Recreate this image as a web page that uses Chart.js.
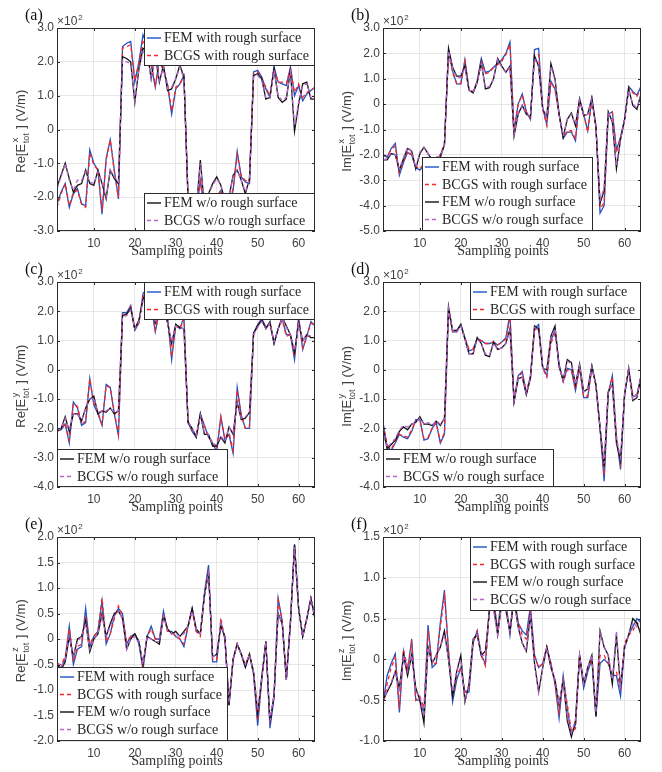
<!DOCTYPE html>
<html><head><meta charset="utf-8">
<script src="https://cdn.jsdelivr.net/npm/chart.js@4.4.1/dist/chart.umd.min.js"></script>
<style>
html,body{margin:0;padding:0;background:#fff;}
#wrap{position:relative;width:662px;height:772px;overflow:hidden;background:#fff;}
canvas{position:absolute;}
</style></head><body><div id="wrap"></div>
<script>
// ---------- categories / ticks ----------
const samplingPoints = [1,2,3,4,5,6,7,8,9,10,11,12,13,14,15,16,17,18,19,20,21,22,23,24,25,26,27,28,29,30,31,32,
  33,34,35,36,37,38,39,40,41,42,43,44,45,46,47,48,49,50,51,52,53,54,55,56,57,58,59,60,61,62,63,64];
const xTicks = [10,20,30,40,50,60];
const yTicksA = [-3,-2,-1,0,1,2,3];
const yTicksB = [-5,-4,-3,-2,-1,0,1,2,3];
const yTicksC = [-4,-3,-2,-1,0,1,2,3];
const yTicksD = [-4,-3,-2,-1,0,1,2,3];
const yTicksE = [-2,-1.5,-1,-0.5,0,0.5,1,1.5,2];
const yTicksF = [-1,-0.5,0,0.5,1,1.5];
const seriesNames = ['FEM with rough surface','BCGS with rough surface','FEM w/o rough surface','BCGS w/o rough surface'];

// ---------- values (x10^2 V/m) ----------
// (a) Re[Ex]
const aFemRough = [-2.2,-1.85,-1.6,-2.3,-1.9,-1.75,-2.2,-2.25,-0.6,-1.0,-1.2,-2.5,-0.85,-0.3,-1.2,-2.05,
  2.45,2.55,2.6,1.4,2.0,2.8,2.5,1.9,1.25,2.1,1.8,1.3,0.45,1.2,1.35,1.6,
  -2.1,-2.3,-2.5,-1.5,-2.4,-2.0,-2.3,-2.0,-1.8,-2.4,-2.2,-1.8,-0.65,-1.4,-1.55,-1.6,
  1.7,1.75,1.55,1.2,0.95,1.85,1.4,1.35,1.3,1.85,1.0,1.3,0.85,1.05,1.15,1.25];
const aBcgsRough = [-2.3,-1.9,-1.6,-2.25,-1.85,-1.8,-2.2,-2.3,-0.7,-1.05,-1.2,-2.4,-0.9,-0.3,-1.25,-2.0,
  2.4,2.45,2.5,1.45,1.95,2.6,2.5,1.95,1.3,2.0,1.75,1.35,0.55,1.25,1.35,1.55,
  -2.05,-2.3,-2.45,-1.55,-2.35,-2.0,-2.25,-2.0,-1.8,-2.35,-2.15,-1.75,-0.75,-1.4,-1.5,-1.55,
  1.65,1.7,1.5,1.25,1.0,1.8,1.4,1.4,1.35,1.8,1.1,1.35,0.95,1.1,1.15,1.25];
const aFemSmooth = [-1.7,-1.35,-1.0,-1.45,-1.85,-1.65,-1.6,-1.2,-1.6,-1.65,-1.2,-1.6,-2.05,-1.2,-1.45,-1.6,
  2.15,2.1,2.0,0.8,1.8,2.4,2.3,1.5,2.2,1.4,1.9,1.15,1.2,1.5,1.9,1.55,
  -2.0,-2.2,-2.4,-0.9,-2.3,-1.9,-1.6,-1.4,-1.65,-2.1,-2.0,-1.35,-1.2,-1.5,-1.9,-1.45,
  1.6,1.65,1.5,0.9,0.95,1.8,0.95,0.8,0.9,1.75,-0.05,0.75,1.35,1.4,0.9,0.9];
const aBcgsSmooth = [-1.75,-1.4,-1.0,-1.5,-1.8,-1.5,-1.5,-1.25,-1.55,-1.6,-1.25,-1.55,-2.0,-1.2,-1.4,-1.55,
  2.05,2.0,1.95,0.85,1.75,2.3,2.25,1.5,2.15,1.45,1.85,1.2,1.25,1.5,1.85,1.5,
  -1.95,-2.15,-2.35,-1.0,-2.25,-1.9,-1.65,-1.45,-1.65,-2.05,-1.95,-1.4,-1.2,-1.5,-1.85,-1.45,
  1.55,1.6,1.45,0.95,0.95,1.75,1.0,0.85,0.95,1.7,0.1,0.8,1.3,1.35,0.95,0.9];

// (b) Im[Ex]
const bFemRough = [-2.0,-2.1,-1.75,-1.55,-2.8,-2.3,-1.9,-2.0,-2.5,-2.6,-2.4,-2.1,-2.3,-2.2,-2.0,-1.6,
  2.1,1.3,0.8,0.8,1.75,0.55,0.45,0.9,1.8,1.25,1.3,1.45,1.6,1.75,2.0,2.45,
  -1.05,0.0,0.4,-0.3,-0.6,2.15,2.2,-0.15,-0.8,0.9,0.6,-0.4,-1.35,-1.1,-1.1,-1.45,
  0.2,-0.4,-1.05,0.2,-0.9,-4.3,-4.0,-0.4,-0.3,-1.8,-1.3,-0.6,0.7,0.5,0.35,0.7];
const bBcgsRough = [-2.0,-2.05,-1.8,-1.65,-2.7,-2.25,-1.85,-2.0,-2.45,-2.55,-2.35,-2.1,-2.3,-2.2,-2.0,-1.6,
  2.0,1.25,0.8,0.8,1.7,0.55,0.5,0.9,1.75,1.2,1.25,1.45,1.55,1.7,1.95,2.35,
  -1.0,0.0,0.35,-0.3,-0.55,1.95,1.95,-0.2,-0.85,0.85,0.6,-0.4,-1.3,-1.05,-1.05,-1.35,
  0.15,-0.4,-1.1,0.15,-0.9,-4.1,-3.9,-0.4,-0.3,-1.9,-1.35,-0.6,0.65,0.45,0.3,0.6];
const bFemSmooth = [-2.2,-2.2,-1.95,-2.0,-2.6,-2.15,-1.75,-1.85,-2.55,-1.95,-1.7,-1.95,-2.2,-2.1,-2.1,-1.6,
  2.2,1.45,1.1,1.1,1.5,0.55,0.45,0.85,1.65,0.6,0.65,1.0,1.8,1.5,1.25,1.5,
  -1.25,-0.4,-0.05,-0.4,-0.5,1.9,1.5,-0.2,-0.5,1.6,1.0,-0.4,-1.3,-0.6,-0.35,-0.85,
  0.2,-0.45,-0.4,0.25,-0.9,-3.9,-3.4,-0.3,-0.7,-2.55,-1.4,-0.6,0.6,-0.05,-0.2,0.4];
const bBcgsSmooth = [-2.2,-2.15,-1.9,-2.0,-2.55,-2.1,-1.7,-1.85,-2.5,-1.9,-1.7,-1.95,-2.2,-2.1,-2.05,-1.6,
  2.1,1.4,1.05,1.05,1.45,0.55,0.45,0.85,1.6,0.65,0.7,1.0,1.75,1.45,1.25,1.45,
  -1.2,-0.35,-0.05,-0.4,-0.5,1.8,1.45,-0.2,-0.5,1.5,0.95,-0.4,-1.25,-0.6,-0.4,-0.8,
  0.15,-0.45,-0.4,0.2,-0.85,-3.8,-3.3,-0.3,-0.65,-2.45,-1.4,-0.6,0.55,0.0,-0.15,0.35];

// (c) Re[Ey]
const cFemRough = [-2.05,-2.05,-1.85,-2.5,-1.1,-1.3,-1.9,-1.8,-0.3,-1.2,-1.5,-1.9,-0.5,-0.6,-1.5,-2.25,
  1.95,1.95,2.2,1.35,1.6,2.6,2.8,2.2,1.3,2.0,2.3,1.8,0.35,1.55,1.4,1.8,
  -1.8,-2.1,-2.3,-1.5,-1.9,-2.3,-2.5,-2.8,-1.6,-2.4,-2.2,-2.85,-0.6,-1.55,-2.0,-2.0,
  1.25,1.55,1.75,1.45,1.6,0.9,1.4,1.75,1.2,1.2,0.35,1.8,0.7,1.15,1.65,1.5];
const cBcgsRough = [-2.1,-2.0,-1.8,-2.4,-1.15,-1.25,-1.85,-1.75,-0.3,-1.15,-1.45,-1.85,-0.55,-0.6,-1.45,-2.2,
  1.9,1.9,2.15,1.4,1.6,2.5,2.7,2.15,1.35,1.95,2.25,1.75,0.45,1.5,1.4,1.75,
  -1.75,-2.05,-2.25,-1.55,-1.9,-2.3,-2.45,-2.7,-1.6,-2.35,-2.15,-2.75,-0.7,-1.55,-2.0,-1.95,
  1.2,1.5,1.7,1.45,1.55,0.95,1.4,1.7,1.15,1.2,0.45,1.75,0.75,1.15,1.6,1.5];
const cFemSmooth = [-2.1,-2.0,-1.6,-2.1,-1.5,-1.5,-1.75,-1.3,-1.0,-0.9,-1.5,-1.4,-1.45,-1.3,-1.5,-1.4,
  1.85,1.9,2.1,1.4,1.7,2.4,2.7,2.1,1.6,2.0,2.1,1.6,0.9,1.55,1.45,1.4,
  -1.8,-2.0,-2.3,-1.5,-2.2,-2.2,-2.6,-2.6,-2.3,-2.5,-1.95,-2.2,-1.1,-1.7,-1.65,-1.45,
  1.25,1.5,1.7,1.4,1.65,0.9,1.4,1.8,1.5,1.2,0.6,1.6,1.0,1.2,1.1,1.1];
const cBcgsSmooth = [-2.05,-2.0,-1.65,-2.05,-1.5,-1.5,-1.7,-1.35,-1.0,-0.95,-1.45,-1.4,-1.4,-1.3,-1.45,-1.4,
  1.8,1.85,2.05,1.4,1.65,2.35,2.6,2.05,1.6,1.95,2.05,1.6,0.95,1.5,1.45,1.4,
  -1.75,-2.0,-2.25,-1.55,-2.15,-2.2,-2.55,-2.55,-2.25,-2.45,-1.95,-2.15,-1.15,-1.65,-1.6,-1.45,
  1.2,1.45,1.65,1.4,1.6,0.95,1.4,1.75,1.45,1.2,0.65,1.55,1.0,1.2,1.15,1.1];

// (d) Im[Ey]
const dFemRough = [-1.8,-2.6,-2.75,-2.5,-2.2,-2.3,-2.35,-2.1,-1.7,-1.7,-2.4,-2.35,-2.0,-1.8,-2.5,-2.2,
  2.1,1.3,1.3,1.55,1.1,0.65,0.7,1.05,1.0,0.9,0.9,0.95,0.85,0.95,1.1,1.9,
  -1.05,-0.2,-0.05,-0.8,-0.2,1.4,1.55,0.1,-0.2,1.0,1.35,0.2,-0.4,0.05,0.0,-0.7,
  0.1,-0.95,-0.95,0.1,-0.5,-2.0,-3.8,-0.8,-0.2,-2.3,-3.4,-0.8,0.0,-0.9,-0.9,-0.2];
const dBcgsRough = [-1.85,-2.55,-2.7,-2.45,-2.2,-2.25,-2.3,-2.05,-1.75,-1.7,-2.35,-2.3,-2.0,-1.8,-2.45,-2.15,
  2.05,1.3,1.3,1.5,1.1,0.7,0.7,1.05,1.0,0.9,0.9,0.95,0.85,0.95,1.05,1.8,
  -1.0,-0.25,-0.1,-0.75,-0.25,1.35,1.45,0.05,-0.25,0.9,1.25,0.15,-0.4,0.0,0.0,-0.65,
  0.05,-0.9,-0.9,0.05,-0.5,-1.95,-3.6,-0.8,-0.25,-2.25,-3.2,-0.8,0.05,-0.85,-0.85,-0.2];
const dFemSmooth = [-2.0,-2.7,-2.55,-2.4,-2.1,-1.95,-2.05,-1.85,-1.8,-1.6,-1.85,-1.85,-1.9,-1.75,-1.9,-1.65,
  2.15,1.35,1.35,1.55,1.05,0.55,0.55,1.1,0.9,0.5,0.45,0.95,0.7,0.75,0.9,1.4,
  -1.1,-0.3,-0.25,-0.85,-0.3,1.5,1.4,0.05,0.0,1.15,1.5,0.1,-0.35,0.35,0.25,-0.5,
  0.2,-0.75,-0.65,0.15,-0.55,-2.0,-3.3,-0.75,-0.5,-2.5,-3.1,-0.85,0.05,-1.05,-0.95,-0.25];
const dBcgsSmooth = [-2.0,-2.65,-2.5,-2.35,-2.05,-1.9,-1.95,-1.85,-1.8,-1.65,-1.85,-1.8,-1.9,-1.75,-1.85,-1.65,
  2.1,1.35,1.3,1.5,1.05,0.55,0.55,1.05,0.9,0.55,0.5,0.9,0.7,0.75,0.9,1.35,
  -1.05,-0.3,-0.25,-0.8,-0.3,1.45,1.35,0.05,0.0,1.1,1.4,0.1,-0.35,0.3,0.2,-0.5,
  0.15,-0.75,-0.65,0.1,-0.55,-1.95,-3.2,-0.75,-0.5,-2.4,-3.0,-0.85,0.05,-1.0,-0.9,-0.25];

// (e) Re[Ez]
const eFemRough = [-0.55,-0.55,-0.4,0.25,-0.5,-0.2,-0.15,0.6,-0.15,0.05,0.15,0.75,-0.1,0.1,0.45,0.6,
  0.5,-0.1,0.05,0.1,-0.1,-0.6,0.05,0.25,0.0,0.0,0.55,0.15,0.15,0.05,0.0,-0.15,
  0.25,0.6,0.15,0.1,0.9,1.45,-0.45,-0.45,0.35,0.0,-1.3,-0.4,-0.1,-0.3,-0.55,-0.3,
  -0.7,-1.7,-0.8,-0.05,-1.75,-1.15,0.8,0.35,-0.8,0.3,1.85,0.6,0.05,0.4,0.8,0.4];
const eBcgsRough = [-0.5,-0.5,-0.35,0.2,-0.45,-0.15,-0.1,0.45,-0.1,0.05,0.15,0.8,-0.05,0.1,0.4,0.65,
  0.45,-0.05,0.05,0.1,-0.05,-0.55,0.05,0.2,0.0,0.0,0.5,0.15,0.15,0.05,0.0,-0.1,
  0.25,0.55,0.15,0.05,0.85,1.35,-0.4,-0.4,0.4,0.0,-1.25,-0.4,-0.1,-0.3,-0.5,-0.3,
  -0.65,-1.6,-0.8,-0.05,-1.65,-1.1,0.75,0.35,-0.75,0.3,1.8,0.6,0.05,0.4,0.8,0.45];
const eFemSmooth = [-0.5,-0.6,-0.45,0.05,-0.35,0.0,0.05,0.35,-0.25,0.0,0.1,0.5,0.05,0.3,0.5,0.55,
  0.4,-0.2,0.0,0.1,-0.05,-0.5,0.05,0.0,-0.05,-0.1,0.45,0.2,0.1,0.15,0.05,0.15,
  0.25,0.6,0.2,0.1,0.85,1.3,-0.35,-0.3,0.25,0.05,-1.3,-0.4,-0.1,-0.3,-0.55,-0.3,
  -0.65,-1.45,-0.75,-0.05,-1.65,-1.1,0.5,0.3,-0.8,0.35,1.85,0.6,0.05,0.4,0.8,0.4];
const eBcgsSmooth = [-0.45,-0.55,-0.4,0.05,-0.35,-0.05,0.05,0.3,-0.2,0.0,0.1,0.45,0.05,0.25,0.45,0.55,
  0.4,-0.2,0.0,0.05,-0.05,-0.5,0.05,0.0,-0.05,-0.05,0.45,0.15,0.1,0.1,0.05,0.1,
  0.25,0.55,0.2,0.1,0.85,1.3,-0.35,-0.3,0.3,0.05,-1.25,-0.4,-0.1,-0.3,-0.5,-0.3,
  -0.65,-1.4,-0.75,-0.05,-1.6,-1.1,0.5,0.3,-0.8,0.35,1.8,0.6,0.05,0.4,0.8,0.4];

// (f) Im[Ez]
const fFemRough = [-0.55,-0.2,-0.05,0.07,-0.65,0.1,-0.15,0.25,-0.5,-0.5,-0.65,0.42,-0.1,-0.05,0.45,0.85,
  0.1,-0.52,-0.25,-0.1,-0.4,-0.4,0.2,0.35,0.05,-0.05,0.65,0.75,0.35,0.8,0.7,0.3,
  0.8,0.45,0.35,0.3,0.65,0.05,-0.1,-0.05,0.15,-0.05,-0.3,-0.72,-0.2,-0.6,-0.92,-0.8,
  0.05,-0.35,-0.15,0.0,-0.7,-0.05,0.0,-0.05,-0.2,-0.2,-0.45,0.15,0.3,0.4,0.5,0.45];
const fBcgsRough = [-0.58,-0.3,-0.1,0.02,-0.6,0.12,-0.1,0.2,-0.5,-0.45,-0.6,0.35,-0.05,-0.05,0.4,0.78,
  0.1,-0.45,-0.2,-0.1,-0.4,-0.35,0.2,0.35,0.05,-0.08,0.6,0.7,0.35,0.75,0.65,0.35,
  0.75,0.45,0.3,0.25,0.6,0.05,-0.1,-0.05,0.15,-0.05,-0.3,-0.65,-0.25,-0.55,-0.88,-0.85,
  0.05,-0.3,-0.1,0.0,-0.65,0.05,0.05,-0.05,-0.2,-0.15,-0.35,0.2,0.3,0.35,0.45,0.4];
const fFemSmooth = [-0.5,-0.4,-0.3,-0.15,-0.35,0.05,-0.2,0.05,-0.35,-0.5,-0.78,0.15,-0.05,0.05,0.15,0.35,
  0.0,-0.45,-0.15,0.05,-0.52,-0.3,0.25,0.3,0.05,0.1,0.6,0.65,0.3,0.7,0.6,0.35,
  0.75,0.4,0.2,0.1,0.55,-0.05,-0.4,-0.1,0.15,-0.1,-0.25,-0.55,-0.25,-0.75,-0.95,-0.75,
  0.05,-0.3,-0.1,0.05,-0.7,0.35,0.15,0.05,-0.3,0.3,-0.35,0.15,0.3,0.5,0.45,0.3];
const fBcgsSmooth = [-0.52,-0.38,-0.28,-0.15,-0.4,0.05,-0.15,0.05,-0.4,-0.45,-0.7,0.15,-0.05,0.05,0.15,0.3,
  0.0,-0.4,-0.15,0.0,-0.5,-0.3,0.25,0.3,0.05,0.05,0.6,0.6,0.3,0.7,0.6,0.35,
  0.7,0.4,0.2,0.1,0.55,-0.05,-0.4,-0.1,0.15,-0.1,-0.25,-0.55,-0.25,-0.7,-0.9,-0.75,
  0.05,-0.3,-0.1,0.05,-0.65,0.35,0.15,0.05,-0.25,0.35,-0.35,0.15,0.3,0.45,0.4,0.35];

// ---------- styling ----------
const SANS = '"Liberation Sans", Arial, sans-serif';
const SERIF = '"Liberation Serif", "Times New Roman", serif';
const seriesStyle = [
  {color:'#1f52c4', dash:[], order:4},
  {color:'#ff2626', dash:[4,3], order:3},
  {color:'#111111', dash:[], order:2},
  {color:'#b466cc', dash:[4,3], order:1}
];

const panels = [
  {letter:'(a)', pre:'Re[E', sup:'x', suf:' ] (V/m)', left:0, top:0, w:331, h:262, pl:57, pt:28, pr:315, pb:231,
   yTicks:yTicksA, series:[aFemRough,aBcgsRough,aFemSmooth,aBcgsSmooth],
   legends:[{hx:'right', vy:'top', items:[0,1]}, {hx:'right', vy:'bottom', items:[2,3]}]},
  {letter:'(b)', pre:'Im[E', sup:'x', suf:' ] (V/m)', left:331, top:0, w:331, h:262, pl:52, pt:28, pr:310, pb:231,
   yTicks:yTicksB, series:[bFemRough,bBcgsRough,bFemSmooth,bBcgsSmooth],
   legends:[{hx:39, vy:'bottom', items:[0,1,2,3]}]},
  {letter:'(c)', pre:'Re[E', sup:'y', suf:' ] (V/m)', left:0, top:254, w:331, h:262, pl:57, pt:28, pr:315, pb:233,
   yTicks:yTicksC, series:[cFemRough,cBcgsRough,cFemSmooth,cBcgsSmooth],
   legends:[{hx:'right', vy:'top', items:[0,1]}, {hx:'left', vy:'bottom', items:[2,3]}]},
  {letter:'(d)', pre:'Im[E', sup:'y', suf:' ] (V/m)', left:331, top:254, w:331, h:262, pl:52, pt:28, pr:310, pb:233,
   yTicks:yTicksD, series:[dFemRough,dBcgsRough,dFemSmooth,dBcgsSmooth],
   legends:[{hx:'right', vy:'top', items:[0,1]}, {hx:'left', vy:'bottom', items:[2,3]}]},
  {letter:'(e)', pre:'Re[E', sup:'z', suf:' ] (V/m)', left:0, top:509, w:331, h:263, pl:57, pt:28, pr:315, pb:232,
   yTicks:yTicksE, series:[eFemRough,eBcgsRough,eFemSmooth,eBcgsSmooth],
   legends:[{hx:'left', vy:'bottom', items:[0,1,2,3]}]},
  {letter:'(f)', pre:'Im[E', sup:'z', suf:' ] (V/m)', left:331, top:509, w:331, h:263, pl:52, pt:28, pr:310, pb:232,
   yTicks:yTicksF, series:[fFemRough,fBcgsRough,fFemSmooth,fBcgsSmooth],
   legends:[{hx:'right', vy:'top', items:[0,1,2,3]}]}
];

function fmtTick(v){ return Math.abs(v) < 1e-9 ? '0' : v.toFixed(1); }

const decor = {
  id:'decor',
  afterDraw(chart, args, o){
    const ctx = chart.ctx, a = chart.chartArea;
    const xs = chart.scales.x, ys = chart.scales.y;
    ctx.save();
    // axes box
    ctx.strokeStyle = '#2b2b2b'; ctx.lineWidth = 1;
    ctx.strokeRect(Math.round(a.left)+0.5, Math.round(a.top)+0.5, Math.round(a.right-a.left)-1, Math.round(a.bottom-a.top)-1);
    // inward tick marks
    ctx.beginPath();
    xTicks.forEach(v => { const px = Math.round(xs.getPixelForValue(v))+0.5;
      ctx.moveTo(px, a.bottom); ctx.lineTo(px, a.bottom-3); ctx.moveTo(px, a.top); ctx.lineTo(px, a.top+3); });
    o.yTicks.forEach(v => { const py = Math.round(ys.getPixelForValue(v))+0.5;
      ctx.moveTo(a.left, py); ctx.lineTo(a.left+3, py); ctx.moveTo(a.right, py); ctx.lineTo(a.right-3, py); });
    ctx.stroke();
    // legends
    const bw = 171, rowH = 17.5;
    o.legends.forEach(L => {
      const n = L.items.length;
      const bh = n === 2 ? 38 : 74;
      let bx = L.hx === 'right' ? a.right - bw : (L.hx === 'left' ? a.left : a.left + L.hx);
      let by = L.vy === 'top' ? a.top : a.bottom - bh;
      bx = Math.round(bx); by = Math.round(by);
      ctx.fillStyle = '#ffffff';
      ctx.fillRect(bx, by, bw, bh);
      ctx.strokeStyle = '#2b2b2b'; ctx.lineWidth = 1; ctx.setLineDash([]);
      ctx.strokeRect(bx+0.5, by+0.5, bw-1, bh-1);
      L.items.forEach((k, i) => {
        const cy = by + 10 + i*rowH;
        const st = seriesStyle[k];
        ctx.strokeStyle = st.color; ctx.lineWidth = 1.4; ctx.setLineDash(st.dash);
        ctx.beginPath(); ctx.moveTo(bx+3, cy); ctx.lineTo(bx+17, cy); ctx.stroke();
        ctx.setLineDash([]);
        ctx.fillStyle = '#262626'; ctx.font = '14px ' + SERIF; ctx.textBaseline = 'middle'; ctx.textAlign = 'left';
        ctx.fillText(seriesNames[k], bx+20, cy+0.5);
      });
    });
    // exponent label
    ctx.textBaseline = 'alphabetic'; ctx.textAlign = 'left'; ctx.fillStyle = '#404040';
    ctx.font = '12px ' + SANS;
    ctx.fillText('\u00d710', a.left, a.top - 3);
    const w10 = ctx.measureText('\u00d710').width;
    ctx.font = '8px ' + SANS;
    ctx.fillText('2', a.left + w10 + 1, a.top - 8);
    // panel letter
    ctx.fillStyle = '#111'; ctx.font = '16px ' + SERIF;
    ctx.fillText(o.letter, a.left - 32, a.top - 8);
    // x title
    ctx.font = '14px ' + SERIF; ctx.textAlign = 'center'; ctx.fillStyle = '#333';
    ctx.fillText('Sampling points', (a.left + a.right)/2 - 9, a.bottom + 24);
    // y title (rotated, with stacked super/subscript)
    ctx.save();
    ctx.translate(a.left - 37, (a.top + a.bottom)/2 + 2);
    ctx.rotate(-Math.PI/2);
    ctx.textAlign = 'left'; ctx.fillStyle = '#404040';
    const fMain = '13px ' + SANS, fSmall = '9px ' + SANS;
    ctx.font = fMain; const w1 = ctx.measureText(o.pre).width, w3 = ctx.measureText(o.suf).width;
    ctx.font = fSmall; const wsup = ctx.measureText(o.sup).width, wsub = ctx.measureText('tot').width;
    const ws = Math.max(wsup, wsub) + 1;
    let cx = -(w1 + ws + w3)/2;
    ctx.font = fMain; ctx.fillText(o.pre, cx, 5); cx += w1 + 0.5;
    ctx.font = fSmall; ctx.fillText(o.sup, cx + 1, -2); ctx.fillText('tot', cx, 9); cx += ws;
    ctx.font = fMain; ctx.fillText(o.suf, cx, 5);
    ctx.restore();
    ctx.restore();
  }
};

const wrap = document.getElementById('wrap');
panels.forEach((p, idx) => {
  const cv = document.createElement('canvas');
  cv.width = p.w; cv.height = p.h;
  cv.style.left = p.left + 'px'; cv.style.top = p.top + 'px';
  cv.style.width = p.w + 'px'; cv.style.height = p.h + 'px';
  wrap.appendChild(cv);
  const datasets = p.series.map((vals, k) => ({
    label: seriesNames[k],
    data: samplingPoints.map((x, i) => ({x: x, y: vals[i]})),
    borderColor: seriesStyle[k].color,
    borderWidth: 1.3,
    borderDash: seriesStyle[k].dash,
    pointRadius: 0,
    tension: 0,
    fill: false,
    order: seriesStyle[k].order
  }));
  new Chart(cv, {
    type: 'line',
    data: {datasets},
    options: {
      responsive: false, animation: false, devicePixelRatio: 1,
      layout: {padding: {top: p.pt, right: p.w - p.pr, left: 0, bottom: 0}, autoPadding: false},
      plugins: {
        legend: {display: false}, tooltip: {enabled: false},
        decor: {letter: p.letter, pre: p.pre, sup: p.sup, suf: p.suf, yTicks: p.yTicks, legends: p.legends}
      },
      scales: {
        x: {
          type: 'linear', min: 1, max: 64,
          afterBuildTicks: s => { s.ticks = xTicks.map(v => ({value: v})); },
          afterFit: s => { s.height = p.h - p.pb; },
          grid: {color: '#e6e6e6', drawTicks: false, lineWidth: 1},
          border: {display: false},
          ticks: {font: {family: SANS, size: 12}, color: '#404040', padding: 5, maxRotation: 0, autoSkip: false}
        },
        y: {
          type: 'linear', min: p.yTicks[0], max: p.yTicks[p.yTicks.length-1],
          afterBuildTicks: s => { s.ticks = p.yTicks.map(v => ({value: v})); },
          afterFit: s => { s.width = p.pl; },
          grid: {color: '#e6e6e6', drawTicks: false, lineWidth: 1},
          border: {display: false},
          ticks: {font: {family: SANS, size: 12}, color: '#404040', padding: 3, callback: v => fmtTick(v), autoSkip: false}
        }
      }
    },
    plugins: [decor]
  });
});
</script>
</body></html>
